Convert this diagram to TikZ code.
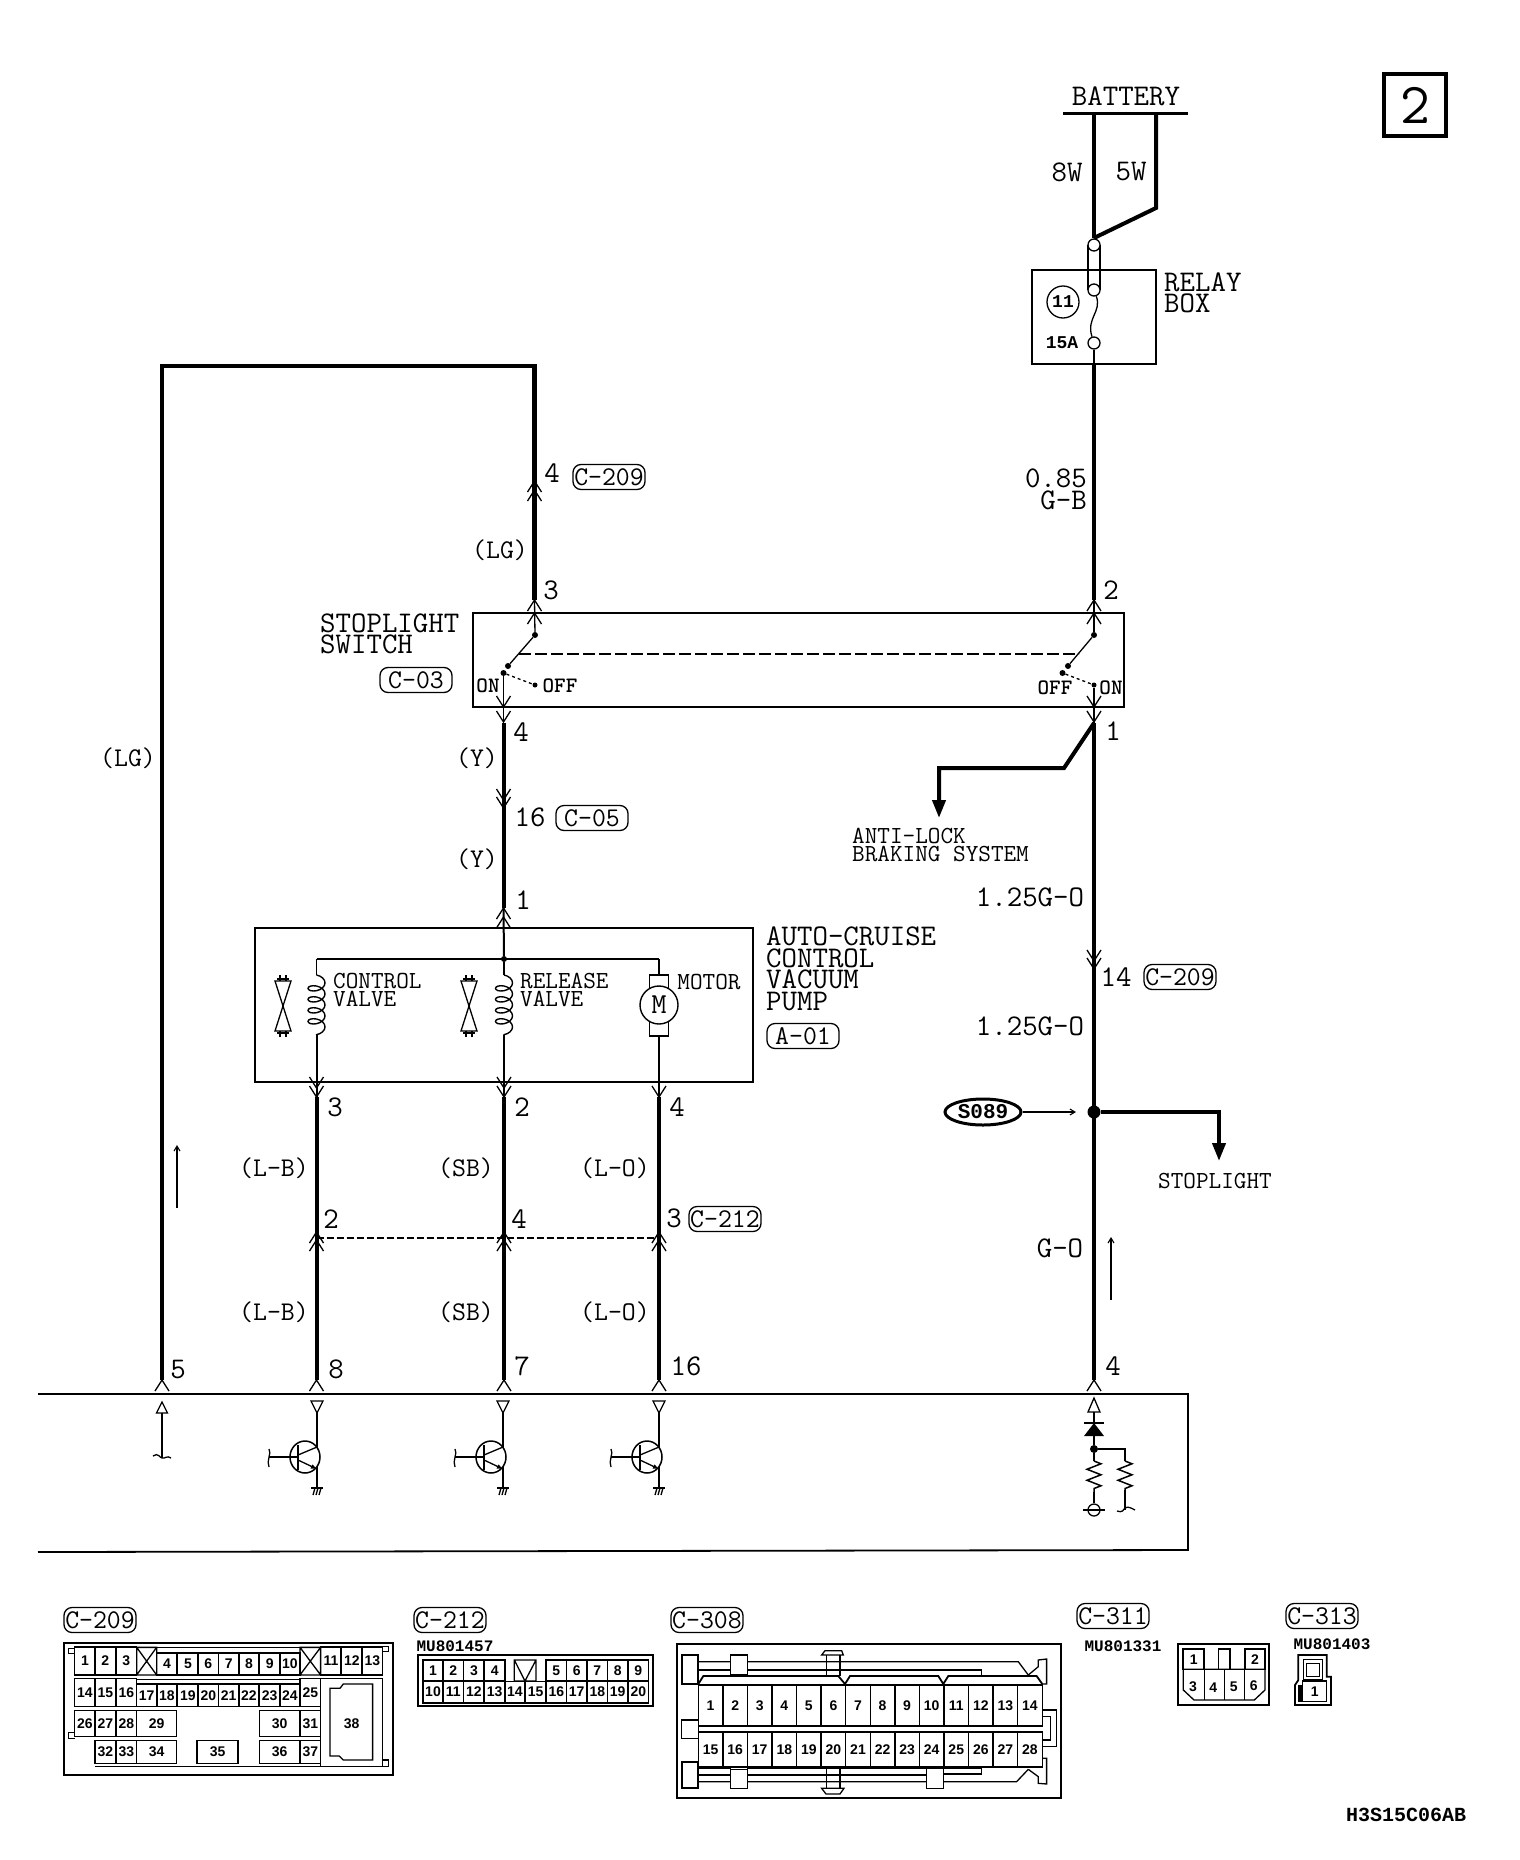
\documentclass[tikz,border=0pt]{standalone}
\usepackage{fontspec}
\usetikzlibrary{arrows.meta, shapes.geometric, decorations.pathmorphing}
\newfontfamily\partfont{Liberation Mono}
\newfontfamily\pinfont{Liberation Sans}
\tikzstyle{lbl}=[inner sep=0pt,align=left,font=\ttfamily\fontsize{30}{21.5}\selectfont]
\tikzstyle{lblwire}=[inner sep=0pt,font=\ttfamily\fontsize{27}{27}\selectfont]
\tikzstyle{lblsmall}=[inner sep=0pt,align=left,font=\ttfamily\fontsize{24.5}{18}\selectfont]
\tikzstyle{lblswitch}=[inner sep=0pt,font=\ttfamily\bfseries\fontsize{22}{22}\selectfont]
\tikzstyle{lbltiny}=[inner sep=0pt,font=\partfont\bfseries\fontsize{16}{16}\selectfont]
\tikzstyle{tag}=[draw,line width=1.3pt,rounded corners=8pt,minimum width=72pt,minimum height=25pt,inner sep=0pt,font=\ttfamily\fontsize{27}{27}\selectfont]
\tikzstyle{wire}=[draw,line width=4pt]
\tikzstyle{lead}=[draw,line width=1.3pt]
\tikzstyle{dot}=[shape=circle,fill=black,minimum size=6pt,inner sep=0pt]
\tikzstyle{term}=[shape=circle,draw=black,fill=white,line width=1.3pt,minimum size=12pt,inner sep=0pt]
\tikzstyle{pin}=[draw,line width=1.5pt,inner sep=0pt,font=\pinfont\bfseries\fontsize{14}{14}\selectfont]
\tikzstyle{pinnum}=[inner sep=0pt,font=\pinfont\bfseries\fontsize{14}{14}\selectfont]
\tikzset{
  chevup/.pic={\draw[line width=1.3pt] (-7,11) -- (0,0) -- (7,11);},
  chevdown/.pic={\draw[line width=1.3pt] (-7,-11) -- (0,0) -- (7,-11);},
  valve/.pic={
    \draw[line width=1.3pt] (-8,-25) -- (8,-25) -- (0,0) -- cycle;
    \draw[line width=1.3pt] (-8,25) -- (8,25) -- (0,0) -- cycle;
    \draw[line width=1.3pt] (-3,-31) -- (-3,-25) (3,-31) -- (3,-25) (-6,-27) -- (6,-27);
    \draw[line width=1.3pt] (-3,31) -- (-3,25) (3,31) -- (3,25) (-6,27) -- (6,27);
  }
}

\begin{document}
\begin{tikzpicture}[x=1pt,y=-1pt]
\useasboundingbox (0,0) rectangle (1520,1860);

% battery
\node[lbl] (battery) at (1126,96) {BATTERY};
\coordinate (barl) at (1063,113);
\coordinate (barr) at (1188,113);
\coordinate (bat8) at (1094,113);
\coordinate (bat5) at (1156,113);
\coordinate (bat5b) at (1156,208);
\coordinate (joint) at (1094,238);
\node[lbl] (w8) at (1067,172) {8W};
\node[lbl] (w5) at (1131,172) {5W};
\path [draw,line width=3pt] (barl) -- (barr);
\path [wire] (bat8) -- (joint);
\path [wire] (bat5) -- (bat5b) -- (joint);

% sheet number
\node[draw,line width=3.5pt,minimum width=62pt,minimum height=62pt,inner sep=0pt,font=\ttfamily\fontsize{58}{58}\selectfont] (sheet) at (1415,105) {2};

% relay box
\node[draw,line width=1.3pt,minimum width=124pt,minimum height=94pt] (relay) at (1094,317) {};
\node[lbl,anchor=west] (relaytxt) at (1164,293) {RELAY\\BOX};
\node[draw,circle,line width=1.3pt,minimum size=32pt,inner sep=0pt,font=\partfont\bfseries\fontsize{18}{18}\selectfont] (fuse11) at (1063,302) {11};
\node[font=\partfont\bfseries\fontsize{18}{18}\selectfont,inner sep=0pt] (fuse15) at (1062,343) {15A};
\path [lead] (1088,245) -- (1088,290);
\path [lead] (1100,245) -- (1100,290);
\node[term] (f1) at (1094,245) {};
\node[term] (f2) at (1094,290) {};
\node[term] (f3) at (1094,343) {};
\coordinate (relayout) at (1094,364);
\path [lead] (f2) .. controls (1102,312) and (1086,318) .. (f3);
\path [lead] (f3) -- (relayout);

% stoplight switch
\node[draw,line width=1.6pt,minimum width=651pt,minimum height=94pt] (switch) at (798.5,660) {};
\node[lbl,anchor=west] (swtxt) at (320,634) {STOPLIGHT\\SWITCH};
\node[tag] (c03) at (416,680) {C-03};
\node[dot] (s3) at (535,635) {};
\node[dot] (s4a) at (508,666) {};
\node[dot] (s4) at (503.5,673) {};
\node[dot,minimum size=5pt] (s4off) at (535,685) {};
\node[dot] (s2) at (1094,635) {};
\node[dot] (s1a) at (1068,666) {};
\node[dot] (s1b) at (1062.5,673) {};
\node[dot,minimum size=5pt] (s1) at (1094,685) {};
\node[lblswitch] (on4) at (488,686) {ON};
\node[lblswitch] (off4) at (560,686) {OFF};
\node[lblswitch] (off1) at (1055,688) {OFF};
\node[lblswitch] (on1) at (1111,688) {ON};
\path [lead] (s3) -- (s4a);
\path [lead] (s2) -- (s1a);
\path [draw,line width=1.3pt,dashed] (s4) -- (s4off);
\path [draw,line width=1.3pt,dashed] (s1b) -- (s1);
\path [draw,line width=1.6pt,dash pattern=on 12pt off 4pt] (519,654) -- (1079,654);

% wire from switch to pump
\coordinate (lgstart) at (162,1380);
\coordinate (lgc1) at (162,366);
\coordinate (lgc2) at (534.5,366);
\coordinate (in3) at (534.5,600);
\coordinate (top3) at (534.5,613);
\path [draw,line width=4.5pt] (lgstart) -- (lgc1) -- (lgc2) -- (in3);
\path [lead] (in3) -- (s3);
\pic at (534.5,600) {chevup};
\pic at (534.5,613) {chevup};
\pic at (534.5,481) {chevup};
\pic at (534.5,490) {chevup};
\node[lbl] (n3) at (551,590) {3};
\node[lbl] (n4a) at (552,473) {4};
\node[tag] (c209a) at (609,477) {C-209};
\node[lblwire] (lg1) at (500,550) {(LG)};
\node[lblwire] (lg2) at (128,758) {(LG)};

\coordinate (y1) at (503.5,723);
\coordinate (y2) at (503.5,908);
\path [wire] (y1) -- (y2);
\path [lead] (s4) -- (y1);
\pic at (503.5,707) {chevdown};
\pic at (503.5,722) {chevdown};
\pic at (503.5,800) {chevdown};
\pic at (503.5,808) {chevdown};
\pic at (503.5,908) {chevup};
\pic at (503.5,917) {chevup};
\node[lbl] (n4b) at (521,732) {4};
\node[lblwire] (y3) at (477,758) {(Y)};
\node[lbl] (n16a) at (530,817) {16};
\node[tag] (c05) at (592,818) {C-05};
\node[lblwire] (y4) at (477,859) {(Y)};
\node[lbl] (n1a) at (523,900) {1};

% right feed
\coordinate (in2) at (1094,600);
\coordinate (out1) at (1094,723);
\coordinate (ecu4) at (1094,1380);
\path [wire] (relayout) -- (in2);
\path [lead] (in2) -- (s2);
\pic at (1094,600) {chevup};
\pic at (1094,613) {chevup};
\path [lead] (s1) -- (out1);
\pic at (1094,707) {chevdown};
\pic at (1094,722) {chevdown};
\path [draw,line width=3.5pt] (out1) -- (ecu4);
\node[lbl] (n2) at (1111,590) {2};
\node[lbl] (n1b) at (1113,731) {1};
\node[lbl,anchor=east] (wsize) at (1087,478) {0.85};
\node[lbl,anchor=east] (wcol) at (1087,500) {G-B};

% anti-lock branch
\coordinate (ab1) at (1064,768);
\coordinate (ab2) at (939,768);
\coordinate (ab3) at (939,818);
\path [draw,line width=4pt,-{Triangle[length=18pt,width=13pt]}] (out1) -- (ab1) -- (ab2) -- (ab3);
\node[lblsmall,anchor=west] (abs) at (852,845) {ANTI-LOCK\\BRAKING SYSTEM};
\node[lbl] (w125a) at (1030,897) {1.25G-O};
\pic at (1094,961) {chevdown};
\pic at (1094,969) {chevdown};
\node[lbl] (n14) at (1116,977) {14};
\node[tag] (c209b) at (1180,977) {C-209};
\node[lbl] (w125b) at (1030,1026) {1.25G-O};

% splice
\node[draw,ellipse,line width=3pt,minimum width=76pt,minimum height=26pt,inner sep=0pt,font=\partfont\bfseries\fontsize{21}{21}\selectfont] (s089) at (983,1112) {S089};
\node[dot,minimum size=13pt] (splice) at (1094,1112) {};
\coordinate (sp1) at (1076,1112);
\path [draw,line width=1.1pt,-{Straight Barb[length=5pt,width=6pt]}] (s089) -- (sp1);
\coordinate (sb1) at (1219,1112);
\coordinate (sb2) at (1219,1161);
\path [draw,line width=4pt,-{Triangle[length=18pt,width=13pt]}] (splice) -- (sb1) -- (sb2);
\node[lblsmall] (stoptxt) at (1215,1181) {STOPLIGHT};
\node[lbl] (go) at (1060,1248) {G-O};
\coordinate (ga1) at (1111,1300);
\coordinate (ga2) at (1111,1237);
\path [draw,line width=1.1pt,-{Straight Barb[length=5pt,width=6pt]}] (ga1) -- (ga2);
\coordinate (la1) at (177,1208);
\coordinate (la2) at (177,1145);
\path [draw,line width=1.1pt,-{Straight Barb[length=5pt,width=6pt]}] (la1) -- (la2);

% auto-cruise pump
\node[draw,line width=1.6pt,minimum width=498pt,minimum height=154pt] (pump) at (504,1005) {};
\node[lbl,anchor=west] (pumptxt) at (766,969) {AUTO-CRUISE\\CONTROL\\VACUUM\\PUMP};
\node[tag] (a01) at (803,1036) {A-01};
\node[dot] (pj) at (504,959) {};
\coordinate (busl) at (316.5,959);
\coordinate (busr) at (659,959);
\path [draw,line width=2pt] (y2) -- (pj);
\path [draw,line width=2pt] (busl) -- (busr);

\coordinate (cv1) at (316.5,975);
\coordinate (cv2) at (316.5,1035);
\coordinate (cv3) at (316.5,1097);
\coordinate (rv1) at (504,975);
\coordinate (rv2) at (504,1035);
\coordinate (rv3) at (504,1097);
\path [lead] (busl) -- (cv1);
\path [draw,line width=2pt] (cv2) -- (cv3);
\path [lead] (pj) -- (rv1);
\path [draw,line width=2pt] (rv2) -- (rv3);
\path [draw,line width=1.4pt,decorate,decoration={coil,aspect=.6,segment length=11pt,amplitude=8.5pt}] (cv1) -- (cv2);
\path [draw,line width=1.4pt,decorate,decoration={coil,aspect=.6,segment length=11pt,amplitude=8.5pt}] (rv1) -- (rv2);
\pic at (283,1006) {valve};
\pic at (469,1006) {valve};
\node[lblsmall,anchor=west] (cvtxt) at (333,990) {CONTROL\\VALVE};
\node[lblsmall,anchor=west] (rvtxt) at (520,990) {RELEASE\\VALVE};

\node[draw,line width=1.4pt,minimum width=19pt,minimum height=61pt] (brush) at (659,1005.5) {};
\node[draw,circle,fill=white,line width=1.4pt,minimum size=38pt,inner sep=0pt,font=\ttfamily\fontsize{29}{29}\selectfont] (motor) at (659,1005) {M};
\node[lblsmall] (mtxt) at (709,982) {MOTOR};
\coordinate (mo3) at (659,1097);
\path [lead] (busr) -- (brush.north);
\path [lead] (brush.south) -- (mo3);

\pic at (316.5,1088) {chevdown};
\pic at (316.5,1097) {chevdown};
\pic at (504,1088) {chevdown};
\pic at (504,1097) {chevdown};
\pic at (659,1097) {chevdown};
\node[lbl] (n3b) at (335,1107) {3};
\node[lbl] (n2b) at (522,1107) {2};
\node[lbl] (n4c) at (677,1107) {4};

% wires to control unit
\coordinate (e8) at (316.5,1380);
\coordinate (e7) at (504,1380);
\coordinate (e16) at (659,1380);
\path [wire] (cv3) -- (e8);
\path [wire] (rv3) -- (e7);
\path [wire] (mo3) -- (e16);
\pic at (316.5,1232) {chevup};
\pic at (316.5,1240) {chevup};
\pic at (504,1232) {chevup};
\pic at (504,1240) {chevup};
\pic at (659,1232) {chevup};
\pic at (659,1240) {chevup};
\path [draw,line width=1.4pt,dash pattern=on 7pt off 3pt] (316.5,1238) -- (659,1238);
\node[lbl] (n2c) at (331,1219) {2};
\node[lbl] (n4d) at (519,1219) {4};
\node[lbl] (n3c) at (674,1218) {3};
\node[tag] (c212a) at (725,1219) {C-212};
\node[lblwire] (lb1) at (274,1168) {(L-B)};
\node[lblwire] (sb01) at (466,1168) {(SB)};
\node[lblwire] (lo1) at (615,1168) {(L-O)};
\node[lblwire] (lb2) at (274,1312) {(L-B)};
\node[lblwire] (sb02) at (466,1312) {(SB)};
\node[lblwire] (lo2) at (615,1312) {(L-O)};
\pic at (162,1380) {chevup};
\pic at (316.5,1380) {chevup};
\pic at (504,1380) {chevup};
\pic at (659,1380) {chevup};
\pic at (1094,1380) {chevup};
\node[lbl] (n5) at (178,1369) {5};
\node[lbl] (n8) at (336,1369) {8};
\node[lbl] (n7) at (522,1366) {7};
\node[lbl] (n16b) at (686,1366) {16};
\node[lbl] (n4e) at (1113,1366) {4};

% control unit
\coordinate (ecua) at (38,1394);
\coordinate (ecub) at (1188,1394);
\coordinate (ecuc) at (1188,1550);
\coordinate (ecud) at (38,1552);
\path [draw,line width=1.8pt] (ecua) -- (ecub) -- (ecuc) -- (ecud);

\path [lead] (156.5,1413) -- (167.5,1413) -- (162,1402) -- cycle;
\path [lead] (162,1413) -- (162,1458);
\path [lead] (153,1456) .. controls (158,1452) and (160,1458) .. (162,1458) .. controls (165,1459) and (167,1455) .. (171,1458);

\foreach \tx in {317,503,659}{
  \path [lead] (\tx-6,1401) -- (\tx+6,1401) -- (\tx,1413) -- cycle;
  \path [lead] (\tx,1413) -- (\tx,1488);
  \path [draw,line width=1.5pt,fill=white] (\tx-12,1457) ellipse (15 and 16);
  \path [draw,line width=1.5pt] (\tx-19,1445) -- (\tx-19,1470);
  \path [lead] (\tx-19,1455) -- (\tx,1447);
  \path [draw,line width=1.3pt,-{Latex[length=6pt,width=5pt]}] (\tx-19,1460) -- (\tx,1469);
  \path [draw,line width=1.5pt] (\tx-48,1457) -- (\tx-19,1457);
  \path [lead] (\tx-48,1449) .. controls (\tx-45,1453) and (\tx-51,1461) .. (\tx-48,1467);
  \path [lead] (\tx-6,1488) -- (\tx+6,1488);
  \path [lead] (\tx-4,1495) -- (\tx-2,1488) (\tx-1,1495) -- (\tx+1,1488) (\tx+2,1495) -- (\tx+4,1488);
}

\path [lead] (1088,1412) -- (1100,1412) -- (1094,1398) -- cycle;
\path [lead] (1094,1412) -- (1094,1423);
\path [draw,line width=1.8pt] (1084,1423) -- (1104,1423);
\path [fill=black] (1094,1423) -- (1084,1436) -- (1104,1436) -- cycle;
\node[dot,minimum size=8pt] (dj) at (1094,1449) {};
\coordinate (rb1) at (1125,1449);
\coordinate (rb2) at (1125,1461);
\coordinate (rb3) at (1125,1490);
\coordinate (rb4) at (1125,1510);
\coordinate (ra1) at (1094,1461);
\coordinate (ra2) at (1094,1492);
\path [lead] (1094,1436) -- (dj);
\path [draw,line width=1.8pt] (dj) -- (rb1) -- (rb2);
\path [lead] (dj) -- (ra1);
\path [draw,line width=1.5pt,decorate,decoration={zigzag,amplitude=7pt,segment length=11pt}] (ra1) -- (ra2);
\path [draw,line width=1.5pt,decorate,decoration={zigzag,amplitude=7pt,segment length=11pt}] (rb2) -- (rb3);
\node[term] (gndc) at (1094,1510) {};
\path [lead] (ra2) -- (gndc);
\path [lead] (1083,1510) -- (1105,1510);
\path [lead] (rb3) -- (rb4);
\path [lead] (1117,1511) .. controls (1122,1513) and (1124,1510) .. (1125,1508) .. controls (1128,1506) and (1131,1508) .. (1135,1510);

% connector C-209
\node[tag] (c209c) at (100,1620) {C-209};
\begin{scope}[shift={(50,1610)},x=.3333pt,y=-.3333pt]
\path [draw,line width=2pt] (42,100) rectangle (1028,495);
\foreach \n/\zx in {1/105,2/166,3/229,11/843,12/906,13/967}
  \node[pin,minimum width=20.5pt,minimum height=27.7pt] (ha\n) at (\zx,153) {\n};
\foreach \n/\zx in {4/351,5/414,6/475,7/536,8/597,9/659,10/720}
  \node[pin,minimum width=20.5pt,minimum height=21.7pt] (ha\n) at (\zx,162) {\n};
\foreach \n/\zx in {14/105,15/166,16/229,25/781}
  \node[pin,minimum width=20.5pt,minimum height=28pt] (ha\n) at (\zx,247) {\n};
\foreach \n/\zx in {17/290,18/351,19/414,20/475,21/536,22/597,23/659,24/720}
  \node[pin,minimum width=20.5pt,minimum height=22.7pt] (ha\n) at (\zx,256) {\n};
\foreach \n/\zx/\zw in {26/105/20.5,27/166/20.5,28/229/20.5,29/320/40,30/689/40,31/781/20.5}
  \node[pin,minimum width=\zw pt,minimum height=26pt] (ha\n) at (\zx,340) {\n};
\foreach \n/\zx/\zw in {32/166/20.5,33/229/20.5,34/320/40,35/503/41,36/689/40,37/781/20.5}
  \node[pin,minimum width=\zw pt,minimum height=23pt] (ha\n) at (\zx,426) {\n};
\path [lead] (260,112) rectangle (320,195) (260,112) -- (320,195) (320,112) -- (260,195);
\path [lead] (750,112) rectangle (812,195) (750,112) -- (812,195) (812,112) -- (750,195);
\path [lead] (320,112) -- (750,112) (260,208) -- (750,208);
\path [lead] (812,205) rectangle (997,470);
\path [lead] (840,235) -- (870,235) -- (880,222) -- (968,222) -- (968,450) -- (880,450) -- (868,438) -- (840,438) -- cycle;
\node[pinnum] (ha38) at (905,340) {38};
\path [lead] (75,115) -- (55,115) -- (55,130) -- (75,130);
\path [lead] (997,110) -- (1015,110) -- (1015,125) -- (997,125);
\path [lead] (75,368) -- (55,368) -- (55,385) -- (75,385);
\path [lead] (997,450) -- (1015,450) -- (1015,470) -- (997,470);
\path [lead] (135,470) -- (812,470);
\end{scope}

% connector C-212
\node[tag] (c212b) at (450,1620) {C-212};
\node[lbltiny] (mu1) at (455,1646) {MU801457};
\begin{scope}[shift={(410,1610)},x=.3333pt,y=-.3333pt]
\path [draw,line width=2pt] (25,135) rectangle (728,288);
\foreach \n/\zx in {1/69,2/130,3/192,4/254,5/439,6/500,7/562,8/623,9/685}
  \node[pin,minimum width=20.5pt,minimum height=21pt] (ma\n) at (\zx,181) {\n};
\foreach \n/\zx in {10/69,11/130,12/192,13/254,14/315,15/377,16/439,17/500,18/562,19/623,20/685}
  \node[pin,minimum width=20.5pt,minimum height=21.5pt] (ma\n) at (\zx,246) {\n};
\path [lead] (313,150) rectangle (378,213) (313,150) -- (345,213) -- (378,150);
\end{scope}

% connector C-308
\node[tag] (c308) at (707,1620) {C-308};
\begin{scope}[shift={(670,1610)},x=.3333pt,y=-.3333pt]
\path [draw,line width=1.8pt] (20,103) rectangle (1173,565);
\path [draw,line width=1.8pt] (35,135) rectangle (85,222);
\path [lead] (35,330) rectangle (85,385);
\path [draw,line width=1.8pt] (35,455) rectangle (85,535);
\path [lead] (182,135) rectangle (232,195);
\path [lead] (182,478) rectangle (232,535);
\path [lead] (770,475) rectangle (820,535);
\path [lead] (85,155) -- (182,155) (232,155) -- (1045,155) -- (1075,195);
\path [lead] (85,180) -- (182,180) (232,180) -- (935,180) -- (935,198);
\path [lead] (85,475) -- (182,475) (232,475) -- (770,475) (820,475) -- (935,475) -- (935,492) -- (820,492);
\path [lead] (85,495) -- (182,495) (232,495) -- (770,495);
\path [lead] (85,515) -- (182,515) (232,515) -- (770,515) (820,515) -- (1040,515) -- (1075,478);
\path [lead] (465,122) -- (515,122) -- (520,135) -- (455,135) -- cycle;
\path [lead] (470,135) -- (470,198) (510,135) -- (510,198);
\path [lead] (470,475) -- (470,535) (510,475) -- (510,535);
\path [lead] (455,535) -- (522,535) -- (510,552) -- (468,552) -- cycle;
\path [draw,line width=1.8pt] (85,222) -- (100,198) -- (505,198) -- (525,222) -- (540,198) -- (805,198) -- (820,222) -- (835,198) -- (1100,198) -- (1117,222);
\path [lead] (1075,195) -- (1105,170) -- (1105,150) -- (1130,147) -- (1130,222) -- (1117,222);
\path [lead] (1075,478) -- (1105,500) -- (1105,520) -- (1130,522) -- (1130,445) -- (1117,445);
\path [lead] (1117,300) -- (1160,300) -- (1160,410) -- (1117,410);
\path [lead] (1117,320) -- (1142,320) -- (1142,390) -- (1117,390);
\foreach \n [evaluate=\n as \zx using {85+73.7*(\n-.5)}] in {1,...,14}
  \node[pin,minimum width=24.6pt,minimum height=41pt] (pa\n) at (\zx,286) {\n};
\foreach \n [evaluate=\n as \zx using {85+73.7*(\n-14.5)}] in {15,...,28}
  \node[pin,minimum width=24.6pt,minimum height=35pt] (pa\n) at (\zx,418) {\n};
\end{scope}

% connector C-311
\node[tag] (c311) at (1113,1616) {C-311};
\node[lbltiny] (mu2) at (1123,1646) {MU801331};
\begin{scope}[shift={(1070,1600)},x=.3333pt,y=-.3333pt]
\path [draw,line width=2pt] (325,133) rectangle (598,315);
\node[pin,minimum width=21pt,minimum height=20.5pt] (da1) at (371,178) {1};
\node[pin,minimum width=20pt,minimum height=20.5pt] (da2) at (555,178) {2};
\path [lead] (445,147) rectangle (480,208);
\path [lead] (340,208) -- (585,208) -- (585,270) -- (553,300) -- (372,300) -- (340,270) -- cycle;
\path [lead] (403,208) -- (403,300) (463,208) -- (463,300) (523,208) -- (523,300);
\node[pinnum] (da3) at (369,260) {3};
\node[pinnum] (da4) at (430,262) {4};
\node[pinnum] (da5) at (491,260) {5};
\node[pinnum] (da6) at (551,258) {6};
\end{scope}

% connector C-313
\node[tag] (c313) at (1322,1616) {C-313};
\node[lbltiny] (mu3) at (1332,1644) {MU801403};
\begin{scope}[shift={(1070,1600)},x=.3333pt,y=-.3333pt]
\path [draw,line width=1.8pt] (685,165) -- (770,165) -- (770,230) -- (783,230) -- (783,315) -- (675,315) -- (675,255) -- (685,240) -- cycle;
\path [lead] (700,178) rectangle (758,240);
\path [lead] (710,190) rectangle (748,230);
\node[pin,minimum width=24pt,minimum height=20.5pt] (sa1) at (734,274) {1};
\path [fill=black] (685,255) rectangle (698,305);
\end{scope}

% drawing number
\node[font=\partfont\bfseries\fontsize{20}{20}\selectfont,inner sep=0pt] (dwg) at (1406,1815) {H3S15C06AB};

\end{tikzpicture}
\end{document}
